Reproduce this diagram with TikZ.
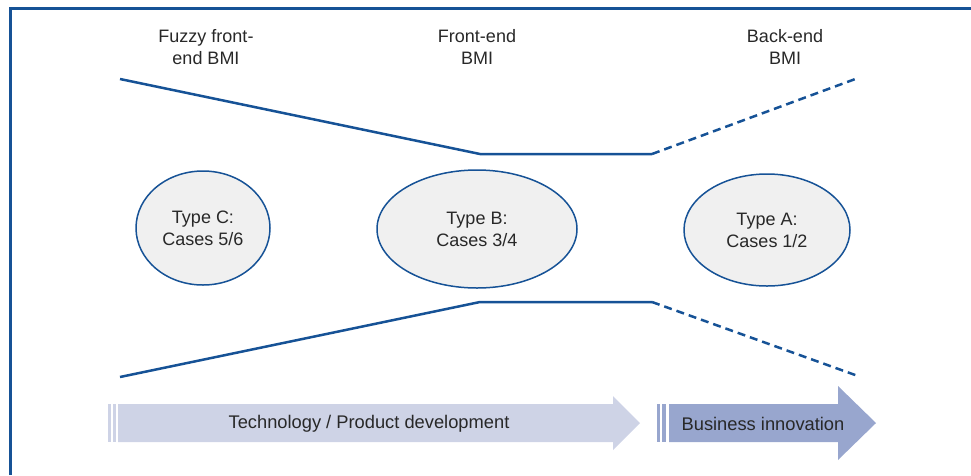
\documentclass[tikz,border=0pt]{standalone}
\usepackage{fontspec}
\setmainfont{Liberation Sans}
\usepackage[]{tikz}
\usetikzlibrary{positioning}
\usetikzlibrary{shapes.geometric}
\definecolor{bmiblue}{RGB}{22,82,150}
\definecolor{techfill}{RGB}{206,211,230}
\definecolor{busfill}{RGB}{152,166,206}
\definecolor{txtgray}{RGB}{40,40,40}
\tikzset{
  phase/.style={align=center,text=txtgray,font=\fontsize{18}{22}\selectfont},
  funnel/.style={bmiblue,line width=2.5pt},
  typeell/.style={ellipse,draw=bmiblue,line width=1.5pt,fill=gray!12,inner sep=0pt,
    align=center,text=txtgray,font=\fontsize{18}{22}\selectfont},
  arrowtext/.style={text=txtgray,font=\fontsize{18.3}{22}\selectfont}
}

\begin{document}
\begin{tikzpicture}[x=1pt,y=-1pt] %按像素取坐标
            \useasboundingbox (0,0) rectangle (971,475);
            \draw[bmiblue,line width=3pt] (10,475)--(10,8)--(971,8); % 外框
            \node[phase] (fuzzy) at (206,47) {Fuzzy front-\\end BMI};
            \node[phase] (front) at (477,47) {Front-end\\BMI};
            \node[phase] (back) at (785,47) {Back-end\\BMI};
            \draw[funnel] (120,79)--(480,154)--(652,154); % 上边线
            \draw[funnel,dash pattern=on 8pt off 5pt] (652,154)--(858,78);
            \draw[funnel] (120,377)--(480,302)--(652,302); % 下边线
            \draw[funnel,dash pattern=on 8pt off 5pt] (652,302)--(858,376);
            \node[typeell,minimum width=134pt,minimum height=114pt] (typeC) at (203,228) {Type C:\\Cases 5/6};
            \node[typeell,minimum width=200pt,minimum height=118pt] (typeB) at (477,229) {Type B:\\Cases 3/4};
            \node[typeell,minimum width=166pt,minimum height=112pt] (typeA) at (767,230) {Type A:\\Cases 1/2};
            \fill[techfill] (108,404) rectangle (111,442); % 箭头
            \fill[techfill] (113,404) rectangle (116,442);
            \fill[techfill] (118,404)--(613,404)--(613,396)--(640,423)--(613,450)--(613,442)--(118,442)--cycle;
            \node[arrowtext] (tech) at (369,424) {Technology / Product development};
            \fill[busfill] (657,404) rectangle (660,442);
            \fill[busfill] (662,404) rectangle (666,442);
            \fill[busfill] (669,404)--(838,404)--(838,386)--(876,423)--(838,460)--(838,442)--(669,442)--cycle;
            \node[arrowtext] (business) at (763,424) {Business innovation};
        \end{tikzpicture}
\end{document}
